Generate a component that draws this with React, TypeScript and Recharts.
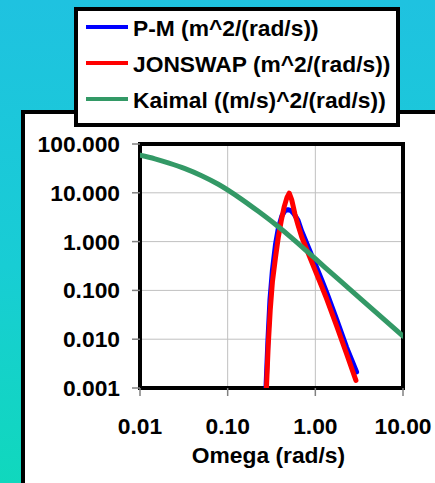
import React from 'react';
import { LineChart, Line, XAxis, YAxis, CartesianGrid, Legend, ReferenceArea } from 'recharts';

const xTicks = [0.01, 0.1, 1, 10];
const yTicks = [0.001, 0.01, 0.1, 1, 10, 100];

const kaimalOmega = [0.01, 0.0148, 0.021, 0.0326, 0.0505, 0.0782, 0.1445, 0.2234, 0.346, 0.537, 0.83, 1.286, 2.48, 4.78, 10];
const kaimalValues = [58.9, 49.7, 41.1, 31.3, 22.4, 14.95, 7.35, 4.17, 2.29, 1.197, 0.6, 0.297, 0.105, 0.0371, 0.0116];

const pmOmega = [0.2734, 0.288, 0.3036, 0.3242, 0.3508, 0.3793, 0.416, 0.45, 0.487, 0.527, 0.57, 0.633, 0.698, 0.83, 0.989, 1.18, 1.346, 1.749, 2.275, 2.957];
const pmValues = [0.001, 0.0097, 0.0641, 0.265, 0.863, 1.93, 3.4, 4.31, 4.52, 4.31, 3.7, 2.75, 1.65, 0.78, 0.36, 0.165, 0.091, 0.0255, 0.0068, 0.00213];

const jonswapOmega = [0.277, 0.29, 0.306, 0.324, 0.351, 0.379, 0.411, 0.442, 0.474, 0.504, 0.537, 0.56, 0.585, 0.633, 0.698, 0.83, 0.989, 1.18, 1.346, 1.749, 2.275, 2.904];
const jonswapValues = [0.001, 0.0073, 0.04, 0.15, 0.467, 1.26, 2.82, 5.21, 7.97, 9.86, 7.25, 5.21, 3.65, 2.22, 1.26, 0.578, 0.265, 0.1214, 0.0673, 0.01875, 0.005, 0.00143];

const seriesNames = ['P-M (m^2/(rad/s))', 'JONSWAP (m^2/(rad/s))', 'Kaimal ((m/s)^2/(rad/s))'];
const seriesColors = ['#0000ff', '#ff0000', '#339966'];
const xTitle = 'Omega (rad/s)';

const toRows = (w: number[], v: number[]) => w.map((x, i) => ({ w: x, v: v[i] }));
const pmData = toRows(pmOmega, pmValues);
const jonswapData = toRows(jonswapOmega, jonswapValues);
const kaimalData = toRows(kaimalOmega, kaimalValues);

const FONT = "'Liberation Sans', Arial, sans-serif";
const FS = 22.8;

const LegendBox = () => (
  <div
    style={{
      position: 'relative',
      width: '100%',
      height: '100%',
      boxSizing: 'border-box',
      border: '4px solid #000',
      background: '#fff',
    }}
  >
    {seriesNames.map((name, i) => (
      <React.Fragment key={name}>
        <div
          style={{
            position: 'absolute',
            left: 8,
            top: 14 + 36 * i,
            width: 42,
            height: 4,
            background: seriesColors[i],
          }}
        />
        <div
          style={{
            position: 'absolute',
            left: 55,
            top: 6.4 + 36 * i,
            fontFamily: FONT,
            fontWeight: 'bold',
            fontSize: FS,
            lineHeight: 1,
            whiteSpace: 'nowrap',
            color: '#000',
          }}
        >
          {name}
        </div>
      </React.Fragment>
    ))}
  </div>
);

const tickStyle = { fill: '#000', fontSize: FS, fontWeight: 'bold', fontFamily: FONT };

export default function App() {
  return (
    <div
      style={{
        position: 'absolute',
        left: 0,
        top: 0,
        width: 435,
        height: 483,
        overflow: 'hidden',
        background: 'linear-gradient(to bottom, #1fc2e0 0%, #18cdd4 55%, #10d8bd 100%)',
      }}
    >
      <div
        style={{
          position: 'absolute',
          left: 21,
          top: 110,
          width: 440,
          height: 400,
          boxSizing: 'border-box',
          border: '4px solid #000',
          background: '#fff',
        }}
      />
      <div style={{ position: 'absolute', left: 0, top: 0 }}>
        <LineChart width={435} height={483} margin={{ top: 144, right: 32, bottom: 0, left: 0 }}>
          <CartesianGrid stroke="#c0c0c0" strokeWidth={1} />
          <XAxis
            dataKey="w"
            type="number"
            scale="log"
            domain={[0.01, 10]}
            ticks={xTicks}
            interval={0}
            allowDataOverflow
            tickFormatter={(v: number) => v.toFixed(2)}
            tick={tickStyle}
            tickLine={{ stroke: '#808080', strokeWidth: 1.5 }}
            axisLine={false}
            tickSize={8}
            tickMargin={22}
            height={95}
            label={{
              value: xTitle,
              position: 'insideBottom',
              offset: 20,
              dx: -3,
              fill: '#000',
              fontSize: FS,
              fontWeight: 'bold',
              fontFamily: FONT,
            }}
          />
          <YAxis
            type="number"
            scale="log"
            domain={[0.001, 100]}
            ticks={yTicks}
            interval={0}
            allowDataOverflow
            tickFormatter={(v: number) => v.toFixed(3)}
            tick={tickStyle}
            tickLine={{ stroke: '#808080', strokeWidth: 1.5 }}
            axisLine={false}
            tickSize={8}
            tickMargin={12}
            width={140}
          />
          <Legend
            layout="vertical"
            align="center"
            verticalAlign="middle"
            content={<LegendBox />}
            wrapperStyle={{ left: 74, top: 7, width: 326, height: 120 }}
          />
          <Line
            data={pmData}
            dataKey="v"
            name={seriesNames[0]}
            stroke={seriesColors[0]}
            strokeWidth={5}
            strokeLinecap="round"
            strokeLinejoin="round"
            dot={false}
            activeDot={false}
            type="linear"
            isAnimationActive={false}
          />
          <Line
            data={jonswapData}
            dataKey="v"
            name={seriesNames[1]}
            stroke={seriesColors[1]}
            strokeWidth={5}
            strokeLinecap="round"
            strokeLinejoin="round"
            dot={false}
            activeDot={false}
            type="linear"
            isAnimationActive={false}
          />
          <Line
            data={kaimalData}
            dataKey="v"
            name={seriesNames[2]}
            stroke={seriesColors[2]}
            strokeWidth={5}
            strokeLinecap="round"
            strokeLinejoin="round"
            dot={false}
            activeDot={false}
            type="monotone"
            isAnimationActive={false}
          />
          <ReferenceArea
            x1={0.01}
            x2={10}
            y1={0.001}
            y2={100}
            fill="none"
            stroke="#000"
            strokeWidth={4}
            ifOverflow="visible"
          />
        </LineChart>
      </div>
    </div>
  );
}
